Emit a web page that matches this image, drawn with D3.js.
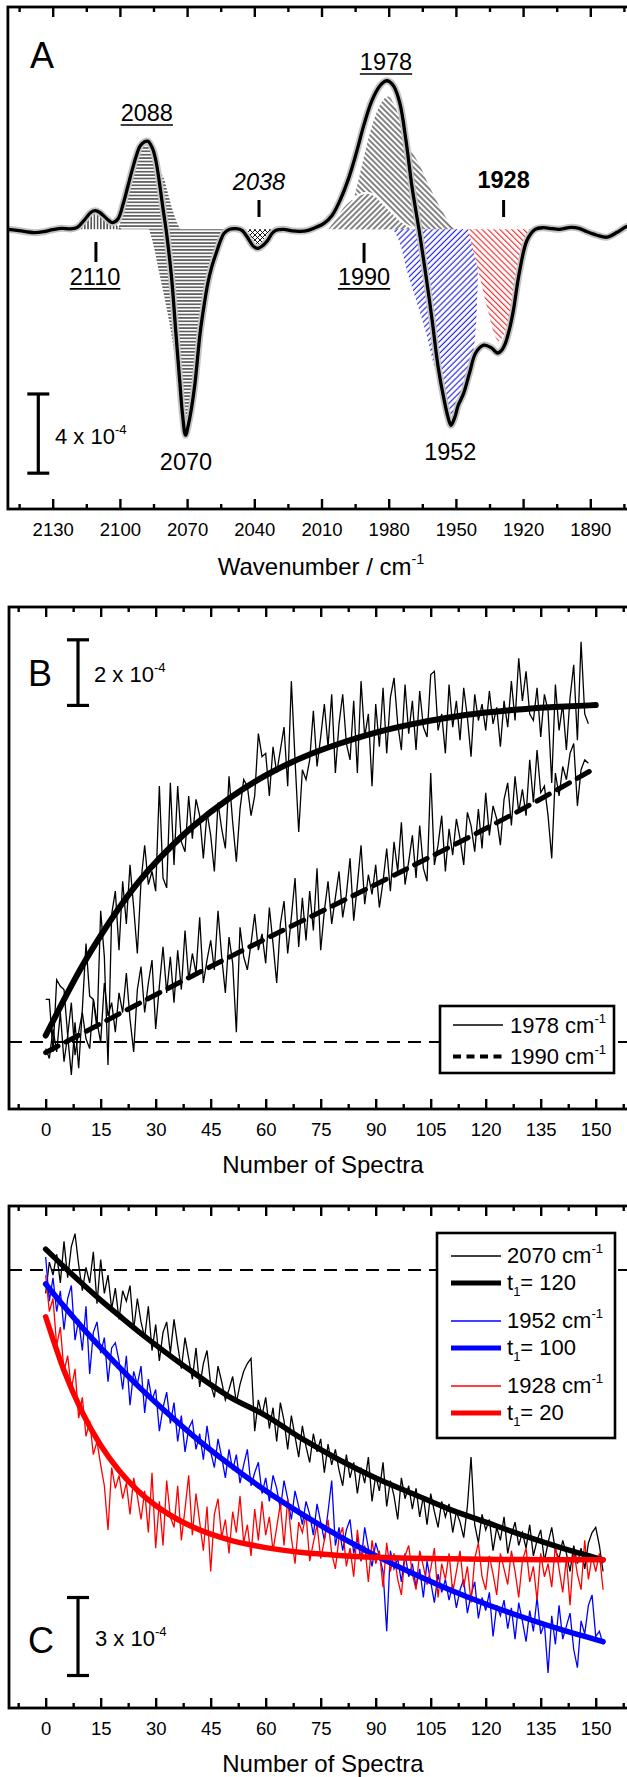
<!DOCTYPE html>
<html>
<head>
<meta charset="utf-8">
<script src="https://cdnjs.cloudflare.com/ajax/libs/d3/7.8.5/d3.min.js"></script>
<style>
  body { margin: 0; background: #fff; }
  svg { display: block; font-family: "Liberation Sans", Arial, sans-serif; }
</style>
</head>
<body>
<svg id="fig" width="627" height="1777"></svg>
<script>
// ---------- panel A : difference spectrum (units of 1e-4) ----------
var wnA = [2150,2146,2142,2138,2134,2130,2126,2122,2119,2116,2113,2111,2109,2106,2103.5,2101,2098.5,2096.5,2094.5,2092.8,
  2091,2089,2087.5,2085.5,2084,2082.1,2080.7,2079.4,2078,2076.7,2075,2073.2,2072,2070.7,2069.3,2068,2066.5,2064.2,2062.5,2060.7,
  2059,2057,2055,2053.5,2051,2048,2045.5,2042.8,2040.5,2038.4,2036,2034,2032,2030.3,2027,2023,2019.6,2016,2012.5,2008.9,
  2005.3,2001.7,1998.2,1994.6,1991,1987.5,1983.9,1981.2,1979.5,1977.6,1975,1972.3,1969.6,1966.5,1963.3,1960.6,1958,1955.3,1953.5,1952.2,
  1950.5,1949,1946.6,1943.9,1941.2,1937.6,1934,1931.5,1929.5,1927.9,1926,1924.3,1921.7,1918.2,1914.6,1911,1907,1904,1898.6,1895,
  1891.5,1887,1882.6,1878,1874,1870];
var absA = [0,-0.05,-0.12,-0.17,-0.12,-0.02,0.05,0.02,0.1,0.45,0.85,0.94,0.85,0.55,0.34,0.5,1.3,2.15,3.0,3.67,
  4.2,4.42,4.45,4.1,3.5,2.15,1.0,0,-1.3,-2.73,-5.25,-7.8,-9.4,-10.4,-9.8,-9.0,-7.8,-5.25,-3.9,-2.7,
  -1.9,-1.2,-0.55,-0.2,0,0.03,-0.05,-0.45,-0.85,-0.96,-0.8,-0.55,-0.2,-0.05,0,-0.08,-0.1,-0.05,0.1,0.3,
  0.7,1.47,2.47,3.8,5.3,6.5,7.25,7.5,7.45,7.2,6.36,4.5,2.15,0,-2.4,-4.6,-6.9,-8.6,-9.5,-9.9,
  -9.5,-8.9,-8.3,-7.25,-6.25,-5.85,-6.0,-6.25,-6.1,-5.75,-5.0,-4.07,-2.2,-0.54,0,0.08,0.03,0,0.1,0.05,
  -0.12,-0.3,-0.4,-0.15,0.13,0.25];

// component bands [wavenumber, value]
var band2110 = [[2120,0],[2117,0.25],[2114,0.65],[2111,0.9],[2108.5,0.75],[2106,0.5],[2103,0.3],[2100.5,0.12],[2099,0]];
var band2088 = [[2101,0],[2098,0.9],[2095.5,2.2],[2093,3.4],[2090.5,4.2],[2088,4.4],[2085.5,4.0],[2083,3.1],[2080.5,2.6],[2078.5,1.8],[2076,0.8],[2074,0.2],[2073,0]];
var band2070 = [[2087,0],[2085,-0.8],[2083,-1.9],[2080,-3.5],[2077,-5.3],[2074,-7.7],[2072,-9.4],[2070.7,-10.3],[2069,-9.7],[2067.5,-8.2],[2065,-6.2],[2062.5,-3.9],[2060,-2.2],[2057,-1.0],[2055,-0.4],[2053,0]];
var band2038 = [[2047,0],[2044.5,-0.25],[2042,-0.6],[2040,-0.85],[2038.4,-0.95],[2036.5,-0.8],[2034,-0.5],[2032,-0.2],[2030,0]];
var band1978 = [[2001,0],[1998,0.6],[1995,1.8],[1992,3.2],[1988.3,4.9],[1985,6.0],[1982,6.6],[1980,6.7],[1977.5,6.3],[1975,5.5],[1973,4.8],[1970,4.0],[1966,3.2],[1962,2.2],[1957,1.1],[1953,0.35],[1950,0]];
var band1990 = [[2007,0],[2003,0.6],[2000,1.1],[1996.4,1.48],[1993,1.75],[1989.5,1.85],[1986,1.7],[1982,1.25],[1978,0.8],[1975,0.47],[1971,0.15],[1968,0]];
var band1952 = [[1978,0],[1975,-0.7],[1972.3,-1.9],[1967.8,-3.57],[1963.3,-5.25],[1959.7,-6.94],[1956,-8.6],[1952.8,-10.0],[1949.5,-9.3],[1946.5,-8.2],[1943.5,-7.0],[1941.5,-5.5],[1940.5,-3.5],[1940,-1.5],[1939.7,0]];
var band1928 = [[1944.6,0],[1941.5,-1.4],[1938.5,-2.8],[1935.5,-4.2],[1932.5,-5.4],[1931,-5.65],[1929.5,-5.5],[1927.5,-5.0],[1925.5,-4.2],[1923.5,-3.2],[1921.5,-2.1],[1919.5,-1.1],[1917.5,-0.4],[1916,0]];

var ticksA = [2130,2100,2070,2040,2010,1980,1950,1920,1890];
var minorA = [2145,2115,2085,2055,2025,1995,1965,1935,1905,1875];

// ---------- panel B : growth (units of 1e-4) ----------
var b1978 = [1.3,1.3,-0.3,1.9,1.7,1.6,0.2,-1.0,0.6,-0.8,
  1.0,3.0,1.4,1.3,0.4,4.0,2.6,-0.7,3.9,4.6,
  2.8,4.9,3.6,5.4,4.1,2.7,4.9,6.0,4.8,5.2,
  4.6,7.8,5.0,4.7,7.9,5.4,7.8,6.1,5.8,7.5,
  6.2,7.4,6.9,5.6,7.0,6.3,5.2,7.3,6.5,5.9,
  8.1,6.7,5.5,7.1,8.0,7.8,6.9,7.5,9.4,8.7,
  8.8,7.5,9.0,8.2,8.9,9.6,7.8,11.0,8.6,6.4,
  8.3,8.0,8.6,10.1,8.4,9.3,10.3,9.0,10.6,8.2,
  9.7,10.6,9.1,8.6,10.4,8.2,11.0,9.3,10.0,7.8,
  10.3,9.0,10.8,8.8,10.5,11.1,9.7,8.9,10.9,9.4,
  10.4,8.9,10.7,9.6,9.3,11.2,11.3,9.5,10.0,8.8,
  10.9,9.6,10.4,9.2,10.8,9.9,8.7,10.6,9.8,10.3,
  9.5,10.7,9.7,10.2,9.0,10.4,9.6,11.0,9.8,11.7,
  10.4,11.3,10.0,9.8,10.8,9.3,10.6,10.1,7.9,10.9,
  9.5,10.3,8.9,10.5,11.5,9.2,12.2,10.0,9.7];
var b1990 = [-0.2,-0.5,0.4,-0.3,0.9,-0.6,0.2,1.2,-0.4,0.3,
  0.9,0.1,-0.2,1.3,0.6,0.0,1.8,0.8,1.2,0.3,
  1.5,0.9,2.1,0.7,-0.3,1.6,2.3,0.9,1.8,2.5,
  0.4,1.7,2.9,1.5,2.6,1.2,2.8,1.6,3.4,1.9,
  2.7,2.1,3.8,1.8,2.5,3.1,2.2,4.0,2.6,1.5,
  3.2,2.4,0.3,3.5,2.6,2.2,3.0,3.9,2.8,3.3,
  2.4,4.1,3.0,1.8,3.6,4.3,2.7,3.8,5.0,2.9,
  4.4,3.1,4.6,3.4,5.3,2.8,4.0,4.9,3.6,4.4,
  5.2,3.8,4.5,5.6,3.7,4.8,6.0,4.2,5.1,4.5,
  5.4,4.1,4.9,5.9,4.6,6.1,5.2,6.7,4.8,5.5,
  6.3,5.0,6.6,5.3,4.9,8.2,5.4,6.0,6.9,5.2,
  6.5,5.7,6.8,6.2,5.4,7.0,6.6,5.8,7.1,5.9,
  7.6,6.3,7.2,6.8,6.0,7.4,7.9,6.6,8.1,7.0,
  7.7,6.9,8.6,7.3,8.9,7.6,7.8,6.9,5.6,8.2,
  7.5,8.4,8.0,8.8,9.1,7.2,8.3,8.6,8.5];
var fitNB = [0,5,10,15,20,25,30,40,50,60,70,80,90,100,110,120,130,140,150];
var fitB1978 = [0.2,1.3,2.35,3.25,4.1,4.85,5.5,6.6,7.45,8.15,8.7,9.1,9.45,9.7,9.9,10.05,10.15,10.22,10.27];
var fitNB2 = [0,15,30,45,60,75,90,105,120,135,150];
var fitB1990 = [-0.32,0.56,1.45,2.3,3.15,3.97,4.8,5.65,6.5,7.4,8.36];

// ---------- panel C : decay (units of 1e-4) ----------
var c2070 = [-0.9,0.3,-0.2,0.6,-0.5,1.1,-0.3,0.9,1.4,0.2,
  -0.8,0.1,-0.5,0.7,-1.3,0.4,-0.9,-0.2,-1.5,-0.7,
  -1.9,-0.8,-1.2,-0.6,-2.3,-1.1,-2.0,-2.6,-1.4,-3.1,
  -2.1,-3.5,-2.4,-2.0,-3.2,-1.9,-2.9,-3.8,-2.6,-3.4,
  -4.2,-3.0,-4.5,-3.6,-3.1,-4.4,-4.9,-3.7,-4.3,-5.0,
  -4.6,-4.1,-5.1,-4.4,-3.9,-3.6,-3.4,-6.2,-5.0,-5.6,
  -4.9,-6.1,-5.3,-6.6,-5.1,-5.8,-6.9,-5.6,-6.4,-7.2,
  -6.0,-6.8,-7.4,-6.3,-7.0,-6.5,-7.8,-6.7,-7.5,-6.9,
  -7.7,-8.3,-7.1,-8.0,-7.4,-8.6,-7.6,-8.2,-7.2,-8.9,
  -7.9,-8.5,-7.4,-9.1,-8.1,-8.7,-9.6,-8.0,-8.8,-8.3,
  -9.2,-8.4,-9.5,-8.7,-9.8,-8.6,-9.3,-9.9,-8.9,-9.5,
  -9.0,-10.1,-9.3,-9.7,-10.3,-9.1,-7.2,-9.8,-10.5,-9.4,
  -10.0,-9.6,-10.8,-9.9,-10.4,-9.5,-10.9,-10.2,-9.7,-10.6,
  -10.1,-10.7,-9.8,-11.0,-10.4,-10.0,-11.2,-10.5,-9.9,-10.8,
  -11.1,-10.4,-10.9,-11.6,-10.6,-11.3,-10.7,-11.5,-10.5,-10.1,
  -9.9,-10.6,-11.6];
var c1952 = [0.5,-1.2,-0.3,-1.6,-0.8,-2.3,-1.1,-0.6,-2.7,-1.9,
  -3.1,-1.4,-4.0,-2.4,-2.0,-3.2,-2.6,-4.3,-3.0,-2.8,
  -3.5,-4.6,-3.3,-5.2,-3.9,-4.4,-3.7,-5.5,-4.2,-5.0,
  -4.6,-6.2,-5.3,-4.7,-5.9,-5.1,-6.6,-5.6,-7.0,-6.1,
  -5.8,-6.9,-6.3,-7.3,-6.0,-7.0,-7.6,-6.5,-7.2,-8.0,
  -6.9,-7.7,-7.1,-8.2,-7.5,-6.9,-8.3,-7.8,-7.4,-8.6,
  -8.0,-8.9,-7.9,-8.4,-9.2,-8.1,-8.8,-9.6,-8.5,-9.1,
  -9.8,-8.9,-9.4,-10.2,-9.0,-9.7,-10.4,-9.3,-8.1,-10.6,
  -9.9,-10.8,-10.0,-9.6,-10.9,-10.3,-11.2,-9.9,-10.7,-11.4,
  -10.5,-11.0,-11.6,-13.9,-10.8,-11.5,-11.1,-12.0,-10.9,-11.8,
  -11.3,-12.2,-11.5,-12.6,-11.2,-12.0,-12.8,-11.7,-12.4,-11.9,
  -12.7,-12.1,-13.0,-12.3,-11.9,-13.2,-12.5,-12.0,-13.4,-12.6,
  -13.1,-12.4,-14.1,-12.9,-13.3,-12.7,-13.8,-13.0,-14.2,-12.8,
  -13.5,-14.3,-13.1,-13.9,-12.6,-14.0,-13.6,-15.5,-13.3,-14.4,
  -12.9,-14.2,-13.7,-13.2,-14.6,-15.3,-13.5,-14.0,-12.9,-12.5,
  -14.1,-13.9,-14.4];
var c1928 = [-0.2,-1.6,-1.1,-2.9,-2.2,-3.9,-3.3,-4.6,-3.8,-5.7,
  -4.9,-6.4,-5.8,-7.1,-6.6,-7.5,-8.3,-10.0,-7.6,-8.4,
  -7.9,-8.8,-8.2,-9.4,-8.0,-8.7,-9.6,-8.5,-10.1,-7.8,
  -10.7,-8.9,-10.6,-8.1,-9.5,-9.9,-8.3,-10.4,-9.2,-7.9,
  -10.2,-8.6,-9.7,-10.8,-9.1,-11.6,-9.4,-8.8,-10.3,-9.6,
  -10.9,-9.3,-10.1,-8.7,-10.5,-9.8,-11.0,-9.2,-10.4,-8.9,
  -10.2,-9.5,-10.8,-9.9,-9.0,-10.6,-8.8,-10.3,-11.3,-9.7,
  -10.1,-9.4,-11.2,-10.5,-9.8,-11.1,-10.4,-9.6,-10.9,-11.5,
  -10.3,-9.9,-11.4,-10.7,-11.8,-10.0,-11.2,-10.6,-12.0,-10.4,
  -11.3,-10.8,-12.2,-10.5,-11.6,-10.9,-11.9,-12.5,-11.0,-10.6,
  -11.7,-12.3,-10.8,-11.4,-12.1,-11.5,-10.7,-12.6,-11.3,-11.9,
  -10.9,-12.4,-11.6,-10.8,-12.2,-11.4,-12.8,-11.1,-10.5,-11.8,
  -12.3,-11.0,-11.7,-12.5,-10.9,-11.5,-12.1,-10.8,-11.6,-12.6,
  -11.2,-10.7,-12.0,-11.4,-12.7,-10.9,-11.8,-11.3,-12.2,-10.6,
  -11.5,-12.4,-11.1,-12.9,-10.8,-11.7,-12.3,-10.4,-11.9,-11.0,
  -11.6,-10.9,-12.3];
var fitNC = [0,5,10,15,20,25,30,40,50,60,70,80,90,100,110,120,130,140,152];
var fitC2070 = [0.8,0.12,-0.53,-1.16,-1.75,-2.33,-2.88,-3.92,-4.87,-5.6,-6.5,-7.3,-8.0,-8.6,-9.2,-9.7,-10.2,-10.66,-11.15];
var fitC1952 = [-0.54,-1.4,-2.22,-2.99,-3.73,-4.44,-5.1,-6.35,-7.47,-8.49,-9.4,-10.24,-10.99,-11.67,-12.29,-12.85,-13.35,-13.81,-14.3];
var fitC1928 = [-1.8,-3.87,-5.48,-6.74,-7.71,-8.47,-9.06,-9.88,-10.38,-10.68,-10.87,-10.98,-11.05,-11.09,-11.11,-11.13,-11.14,-11.15,-11.15];

var ticksN = [0,15,30,45,60,75,90,105,120,135,150];
var minorN = [-7.5,7.5,22.5,37.5,52.5,67.5,82.5,97.5,112.5,127.5,142.5,157.5];

// ---------- setup ----------
var svg = d3.select('#fig');
var defs = svg.append('defs');

function hatch(id, w, h, d, color, sw, rot) {
  var p = defs.append('pattern').attr('id', id)
    .attr('patternUnits', 'userSpaceOnUse')
    .attr('width', w).attr('height', h);
  if (rot) p.attr('patternTransform', 'rotate(' + rot + ')');
  p.append('path').attr('d', d).attr('fill', 'none')
    .attr('stroke', color).attr('stroke-width', sw);
}
hatch('hH', 8, 3.4, 'M0,1.7H8', '#000', 1.05);
hatch('hV', 3.2, 8, 'M1.6,0V8', '#000', 1.05);
hatch('hX', 5, 5, 'M0,0L5,5M5,0L0,5', '#000', 0.9);
hatch('hBack', 8, 4, 'M0,2H8', '#111', 1.05, 45);
hatch('hFwd', 8, 4, 'M0,2H8', '#111', 1.05, -45);
hatch('hBlue', 8, 4.2, 'M0,2H8', '#2020e8', 1.15, -45);
hatch('hRed', 8, 4.2, 'M0,2H8', '#f02a2a', 1.15, 45);

function frame(g, x, y, majors, minors) {
  var r = x.range(), ry = y.range();
  var top = g.append('g').attr('transform', 'translate(0,' + ry[0] + ')');
  top.call(d3.axisTop(x).tickValues(majors).tickSize(-10).tickSizeOuter(0).tickFormat(''));
  top.append('g').call(d3.axisTop(x).tickValues(minors).tickSize(-5).tickSizeOuter(0).tickFormat(''));
  var bot = g.append('g').attr('transform', 'translate(0,' + ry[1] + ')');
  bot.call(d3.axisBottom(x).tickValues(majors).tickSize(-10).tickSizeOuter(0).tickPadding(14).tickFormat(d3.format('d')));
  bot.append('g').call(d3.axisBottom(x).tickValues(minors).tickSize(-5).tickSizeOuter(0).tickFormat(''));
  g.selectAll('.domain').remove();
  g.selectAll('.tick line').attr('stroke', '#000').attr('stroke-width', 2.4);
  bot.selectAll('.tick text').attr('font-size', 18.5).attr('fill', '#000')
    .attr('font-family', '"Liberation Sans", Arial, sans-serif');
  g.append('rect').attr('x', r[0]).attr('y', ry[0])
    .attr('width', r[1] - r[0]).attr('height', ry[1] - ry[0])
    .attr('fill', 'none').attr('stroke', '#000').attr('stroke-width', 2.8);
}

function supText(g, x, y, main, sup, size, anchor) {
  var t = g.append('text').attr('x', x).attr('y', y).attr('font-size', size)
    .attr('text-anchor', anchor || 'start').attr('fill', '#000');
  t.append('tspan').text(main);
  t.append('tspan').attr('dy', -size * 0.45).attr('font-size', size * 0.6).text(sup);
  return t;
}

function scaleBar(g, x, y, v0, v1) {
  var y0 = y(v0), y1 = y(v1);
  g.append('line').attr('x1', x).attr('x2', x).attr('y1', y0).attr('y2', y1);
  g.append('line').attr('x1', x - 11).attr('x2', x + 11).attr('y1', y0).attr('y2', y0);
  g.append('line').attr('x1', x - 11).attr('x2', x + 11).attr('y1', y1).attr('y2', y1);
  g.selectAll('line').attr('stroke', '#000').attr('stroke-width', 3.2);
}

// ---------- panel A ----------
var xA = d3.scaleLinear().domain([2150, 1870]).range([7.9, 635.1]);
var yA = d3.scaleLinear().domain([11.23, -14.13]).range([7, 509]);
var gA = svg.append('g');

var areaA = d3.area().x(function(d){ return xA(d[0]); })
  .y0(yA(0)).y1(function(d){ return yA(d[1]); })
  .curve(d3.curveCatmullRom);
var lineA = d3.line().x(function(d){ return xA(d[0]); })
  .y(function(d){ return yA(d[1]); }).curve(d3.curveCatmullRom);

function band(data, pat, white) {
  if (white) gA.append('path').attr('d', areaA(data)).attr('fill', '#fff');
  gA.append('path').attr('d', areaA(data)).attr('fill', 'url(#' + pat + ')');
}
band(band2110, 'hV');
band(band2088, 'hH');
band(band2070, 'hH');
band(band2038, 'hX');
band(band1978, 'hBack');
band(band1990, 'hFwd', true);
gA.append('path').attr('d', lineA(band1990.slice(3))).attr('fill', 'none')
  .attr('stroke', '#fff').attr('stroke-width', 2);
band(band1952, 'hBlue');
band(band1928, 'hRed', true);

var spec = d3.zip(wnA, absA);
gA.append('path').attr('d', lineA(spec)).attr('fill', 'none')
  .attr('stroke', '#c4c4c4').attr('stroke-width', 7).attr('stroke-linejoin', 'round');
gA.append('path').attr('d', lineA(spec)).attr('fill', 'none')
  .attr('stroke', '#000').attr('stroke-width', 3.3).attr('stroke-linejoin', 'round');

var peakLabels = [
  { t: '2088', wn: 2088, v: 5.47, u: true },
  { t: '1978', wn: 1981.2, v: 8.05, u: true },
  { t: '2110', wn: 2111.1, v: -2.81, u: true },
  { t: '1990', wn: 1991, v: -2.81, u: true },
  { t: '2038', wn: 2037.9, v: 1.98, it: true },
  { t: '1928', wn: 1928.7, v: 2.09, b: true },
  { t: '2070', wn: 2070.5, v: -12.16 },
  { t: '1952', wn: 1952.5, v: -11.65 }
];
peakLabels.forEach(function(p) {
  var t = gA.append('text').attr('x', xA(p.wn)).attr('y', yA(p.v))
    .attr('text-anchor', 'middle').attr('font-size', 23.5).attr('fill', '#000')
    .attr('font-style', p.it ? 'italic' : null)
    .attr('font-weight', p.b ? 'bold' : null).text(p.t);
  if (p.u) {
    var w = t.node().getComputedTextLength();
    gA.append('line').attr('x1', xA(p.wn) - w / 2).attr('x2', xA(p.wn) + w / 2)
      .attr('y1', yA(p.v) + 4).attr('y2', yA(p.v) + 4)
      .attr('stroke', '#000').attr('stroke-width', 1.6);
  }
});
var markTicks = [
  { wn: 2110.7, v0: -0.64, v1: -1.65 },
  { wn: 1991, v0: -0.69, v1: -1.7 },
  { wn: 2037.9, v0: 1.48, v1: 0.62 },
  { wn: 1928.7, v0: 1.48, v1: 0.62 }
];
gA.selectAll('line.mk').data(markTicks).enter().append('line')
  .attr('x1', function(d){ return xA(d.wn); }).attr('x2', function(d){ return xA(d.wn); })
  .attr('y1', function(d){ return yA(d.v0); }).attr('y2', function(d){ return yA(d.v1); })
  .attr('stroke', '#000').attr('stroke-width', 3);

var sbA = gA.append('g');
scaleBar(sbA, 38.3, yA, -8.32, -12.32);
supText(gA, 55, yA(-10.84), '4 x 10', '-4', 22);
gA.append('text').attr('x', 30).attr('y', 68).attr('font-size', 36).text('A');
frame(gA, xA, yA, ticksA, minorA);
supText(gA, 321, 575, 'Wavenumber / cm', '-1', 24, 'middle');

// ---------- panel B ----------
var xB = d3.scaleLinear().domain([-10, 160]).range([9, 632.4]);
var yB = d3.scaleLinear().domain([13.26, -2.04]).range([607, 1109]);
var gB = svg.append('g');
var lineN = function(x, y, curve) {
  return d3.line().x(function(d){ return x(d[0]); }).y(function(d){ return y(d[1]); }).curve(curve || d3.curveLinear);
};
gB.append('line').attr('x1', xB(-10)).attr('x2', xB(160)).attr('y1', yB(0)).attr('y2', yB(0))
  .attr('stroke', '#000').attr('stroke-width', 2).attr('stroke-dasharray', '13,8');
gB.append('path').attr('d', lineN(xB, yB)(b1978.map(function(v, i){ return [i, v]; })))
  .attr('fill', 'none').attr('stroke', '#000').attr('stroke-width', 1.3);
gB.append('path').attr('d', lineN(xB, yB)(b1990.map(function(v, i){ return [i, v]; })))
  .attr('fill', 'none').attr('stroke', '#000').attr('stroke-width', 1.3);
gB.append('path').attr('d', lineN(xB, yB, d3.curveBasis)(d3.zip(fitNB, fitB1978)))
  .attr('fill', 'none').attr('stroke', '#000').attr('stroke-width', 6).attr('stroke-linecap', 'round');
gB.append('path').attr('d', lineN(xB, yB, d3.curveBasis)(d3.zip(fitNB2, fitB1990)))
  .attr('fill', 'none').attr('stroke', '#000').attr('stroke-width', 5)
  .attr('stroke-dasharray', '14,9').attr('stroke-linecap', 'round');

var sbB = gB.append('g');
scaleBar(sbB, 78, yB, 12.26, 10.26);
supText(gB, 94, yB(10.98), '2 x 10', '-4', 22);
gB.append('text').attr('x', 28).attr('y', 686).attr('font-size', 36).text('B');

var legB = gB.append('g');
legB.append('rect').attr('x', 440).attr('y', 1006).attr('width', 174).attr('height', 67)
  .attr('fill', '#fff').attr('stroke', '#000').attr('stroke-width', 2.6);
legB.append('line').attr('x1', 453).attr('x2', 503).attr('y1', 1025).attr('y2', 1025)
  .attr('stroke', '#000').attr('stroke-width', 1.5);
legB.append('line').attr('x1', 453).attr('x2', 505).attr('y1', 1056.5).attr('y2', 1056.5)
  .attr('stroke', '#000').attr('stroke-width', 4).attr('stroke-dasharray', '8,5.5');
supText(legB, 510, 1033, '1978 cm', '-1', 22);
supText(legB, 510, 1064, '1990 cm', '-1', 22);

frame(gB, xB, yB, ticksN, minorN);
supText(gB, 323, 1173, 'Number of Spectra', '', 24, 'middle');

// ---------- panel C ----------
var xC = d3.scaleLinear().domain([-10, 160]).range([9, 632.4]);
var yC = d3.scaleLinear().domain([2.46, -16.85]).range([1206, 1708]);
var gC = svg.append('g');
gC.append('line').attr('x1', xC(-10)).attr('x2', xC(160)).attr('y1', yC(0)).attr('y2', yC(0))
  .attr('stroke', '#000').attr('stroke-width', 2).attr('stroke-dasharray', '13,8');

var seriesC = [
  { raw: c2070, fit: fitC2070, color: '#000' },
  { raw: c1952, fit: fitC1952, color: '#0000ff' },
  { raw: c1928, fit: fitC1928, color: '#ff0000' }
];
seriesC.forEach(function(s) {
  gC.append('path').attr('d', lineN(xC, yC)(s.raw.map(function(v, i){ return [i, v]; })))
    .attr('fill', 'none').attr('stroke', s.color).attr('stroke-width', 1.3);
});
seriesC.forEach(function(s) {
  gC.append('path').attr('d', lineN(xC, yC, d3.curveMonotoneX)(d3.zip(fitNC, s.fit)))
    .attr('fill', 'none').attr('stroke', s.color).attr('stroke-width', 5.5).attr('stroke-linecap', 'round');
});

var sbC = gC.append('g');
scaleBar(sbC, 78, yC, -12.6, -15.6);
supText(gC, 95, yC(-14.46), '3 x 10', '-4', 22);
gC.append('text').attr('x', 28).attr('y', 1653).attr('font-size', 36).text('C');

var legC = gC.append('g');
legC.append('rect').attr('x', 437).attr('y', 1233).attr('width', 178).attr('height', 205)
  .attr('fill', '#fff').attr('stroke', '#000').attr('stroke-width', 2.6);
var legItems = [
  { t: '2070 cm', sup: '-1', color: '#000', w: 1.5, y: 1256, ty: 1263 },
  { t: '120', sub: true, color: '#000', w: 5, y: 1283, ty: 1290 },
  { t: '1952 cm', sup: '-1', color: '#0000ff', w: 1.5, y: 1321, ty: 1328 },
  { t: '100', sub: true, color: '#0000ff', w: 5, y: 1348, ty: 1355 },
  { t: '1928 cm', sup: '-1', color: '#ff0000', w: 1.5, y: 1386, ty: 1393 },
  { t: '20', sub: true, color: '#ff0000', w: 5, y: 1413, ty: 1420 }
];
legItems.forEach(function(d) {
  legC.append('line').attr('x1', 451).attr('x2', 501).attr('y1', d.y).attr('y2', d.y)
    .attr('stroke', d.color).attr('stroke-width', d.w);
  if (d.sub) {
    var t = legC.append('text').attr('x', 507).attr('y', d.ty).attr('font-size', 22).attr('fill', '#000');
    t.append('tspan').text('t');
    t.append('tspan').attr('dy', 6).attr('font-size', 13).text('1');
    t.append('tspan').attr('dy', -6).text('= ' + d.t);
  } else {
    supText(legC, 507, d.ty, d.t, d.sup, 22);
  }
});

frame(gC, xC, yC, ticksN, minorN);
supText(gC, 323, 1772, 'Number of Spectra', '', 24, 'middle');
</script>
</body>
</html>
